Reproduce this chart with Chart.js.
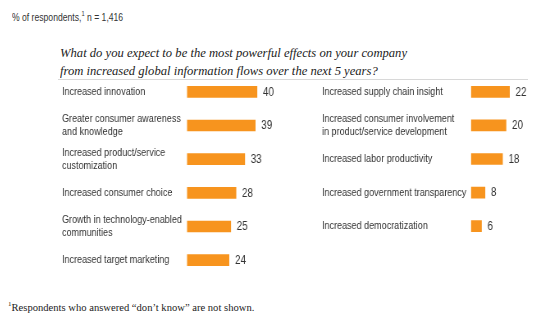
<!DOCTYPE html>
<html>
<head>
<meta charset="utf-8">
<script src="https://cdn.jsdelivr.net/npm/chart.js@4/dist/chart.umd.min.js"></script>
<style>
  body { margin: 0; background: #fff; width: 545px; height: 323px; position: relative; overflow: hidden; }
  .narrow { transform: scaleX(0.82); transform-origin: 0 0; }
  .note { position: absolute; left: 12px; top: 10px; font: 10.5px "Liberation Sans", Arial, sans-serif; color: #333; white-space: nowrap; }
  .note sup { font-size: 7px; }
  .question { position: absolute; left: 60px; top: 44px; font: italic 13.5px "Liberation Serif", serif; color: #222; line-height: 18px; white-space: nowrap; transform: scaleX(0.935); transform-origin: 0 0; }
  .rule { position: absolute; left: 58px; top: 79px; width: 470px; border-top: 1px solid #d8d8d8; }
  .foot { position: absolute; left: 8px; top: 300px; font: 10.6px "Liberation Serif", serif; color: #222; }
  .foot sup { font-size: 7px; }
  .wrap { position: absolute; }
</style>
</head>
<body>
<div class="note narrow">% of respondents,<sup>1</sup> n = 1,416</div>
<div class="question">What do you expect to be the most powerful effects on your company<br>from increased global information flows over the next 5 years?</div>
<div class="rule"></div>
<div class="foot"><sup>1</sup>Respondents who answered “don’t know” are not shown.</div>
<div class="wrap narrow" style="left:62px;top:75px;width:280px;height:202px;"><canvas id="leftChart"></canvas></div>
<div class="wrap narrow" style="left:322px;top:75px;width:272px;height:168px;"><canvas id="rightChart"></canvas></div>
<script>
const leftLabels = [
    'Increased innovation',
    ['Greater consumer awareness', 'and knowledge'],
    ['Increased product/service', 'customization'],
    'Increased consumer choice',
    ['Growth in technology-enabled', 'communities'],
    'Increased target marketing'
];
const leftValues = [40, 39, 33, 28, 25, 24];

const rightLabels = [
    'Increased supply chain insight',
    ['Increased consumer involvement', 'in product/service development'],
    'Increased labor productivity',
    'Increased government transparency',
    'Increased democratization'
];
const rightValues = [22, 20, 18, 8, 6];

const barColor = '#f7941e';
const textColor = '#333';
const fontFamily = '"Liberation Sans", Arial, sans-serif';
// canvases are squeezed horizontally to get a narrow face
const squeeze = 0.82;
const pxPerPoint = 1.75;

// Writes each bar's value just past its end
const valueLabels = {
    id: 'valueLabels',
    afterDatasetsDraw(chart) {
        const ctx = chart.ctx;
        const meta = chart.getDatasetMeta(0);
        ctx.save();
        ctx.font = '12px ' + fontFamily;
        ctx.fillStyle = textColor;
        ctx.textAlign = 'left';
        ctx.textBaseline = 'middle';
        meta.data.forEach((bar, i) => {
            ctx.fillText(chart.data.datasets[0].data[i], bar.x + 6 / squeeze, bar.y + 0.5);
        });
        ctx.restore();
    }
};

function makeChart(id, labels, values, width, axisWidth) {
    const axisInner = axisWidth / squeeze;
    const xMax = (width - axisInner) * squeeze / pxPerPoint;
    return new Chart(document.getElementById(id), {
        type: 'bar',
        data: {
            labels: labels,
            datasets: [{
                data: values,
                backgroundColor: barColor,
                barThickness: 11
            }]
        },
        options: {
            indexAxis: 'y',
            responsive: true,
            maintainAspectRatio: false,
            animation: false,
            layout: { padding: 0 },
            plugins: {
                legend: { display: false },
                tooltip: { enabled: false }
            },
            scales: {
                x: {
                    display: false,
                    min: 0,
                    max: xMax
                },
                y: {
                    grid: { display: false },
                    border: { display: false },
                    ticks: {
                        crossAlign: 'far',
                        color: textColor,
                        font: { family: fontFamily, size: 11, lineHeight: 1.2 },
                        padding: 0
                    },
                    afterFit(scale) {
                        scale.width = axisInner;
                        scale.paddingTop = 0;
                        scale.paddingBottom = 0;
                    }
                }
            }
        },
        plugins: [valueLabels]
    });
}

document.fonts.load('11px "Liberation Sans"').then(() => {
    makeChart('leftChart', leftLabels, leftValues, 280, 125);
    makeChart('rightChart', rightLabels, rightValues, 272, 149);
});
</script>
</body>
</html>
